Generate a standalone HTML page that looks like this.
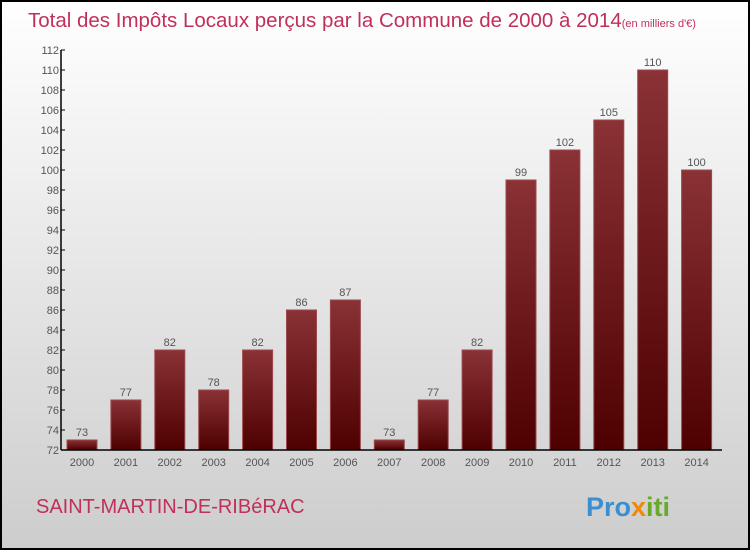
<!DOCTYPE html>
<html><head><meta charset="utf-8"><style>
body{margin:0}
#c{position:relative;width:750px;height:550px;box-sizing:border-box;border:2px solid #000;background:linear-gradient(#fff,#cdcdcd);font-family:"Liberation Sans",sans-serif;overflow:hidden}
</style></head><body>
<div id="c">
<svg width="750" height="550" style="position:absolute;left:-2px;top:-2px">
<defs><linearGradient id="g" x1="0" y1="0" x2="0" y2="1"><stop offset="0" stop-color="#8a3236"/><stop offset="1" stop-color="#4e0000"/></linearGradient></defs>
<text x="28" y="27" font-size="20.5" fill="#c0305a">Total des Impôts Locaux perçus par la Commune de 2000 à 2014<tspan font-size="11">(en milliers d'€)</tspan></text>
<g id="plot"></g>
<text x="36" y="513" font-size="20" fill="#c0305a">SAINT-MARTIN-DE-RIBéRAC</text>
<text x="586" y="516" font-size="27" font-weight="bold" fill="#3a8fd0">Pro<tspan fill="#f08a00">x</tspan><tspan fill="#6aaa2a">iti</tspan></text>
</svg>
</div>
<script>
const categories=["2000","2001","2002","2003","2004","2005","2006","2007","2008","2009","2010","2011","2012","2013","2014"];
const values=[73,77,82,78,82,86,87,73,77,82,99,102,105,110,100];
const yTicks=[72,74,76,78,80,82,84,86,88,90,92,94,96,98,100,102,104,106,108,110,112];
const ymin=72,ymax=112,y0=450,y1=50,xl=61,xr=722;
const y=v=>y0-(v-ymin)/(ymax-ymin)*(y0-y1);
const x=i=>82+i*43.9;
const g=document.getElementById('plot'),NS="http://www.w3.org/2000/svg";
function el(t,a,txt){const e=document.createElementNS(NS,t);for(const k in a)e.setAttribute(k,a[k]);if(txt!=null)e.textContent=txt;g.appendChild(e);return e;}
yTicks.forEach(t=>{
 const l=el('line',{x1:xl,x2:xl+4,y1:y(t),y2:y(t),stroke:'#000'});
 
 
 const s=el('text',{x:xl-2,y:y(t)+4,'font-size':11,fill:'#555','text-anchor':'end'},t);
 
 
});
values.forEach((v,i)=>{
 const r=el('rect',{x:x(i)-15,y:y(v),width:30,height:y0-y(v),fill:'url(#g)',stroke:'#9a4a4e','stroke-width':1});
 
 
 const t=el('text',{x:x(i),y:y(v)-4,'font-size':11,fill:'#555','text-anchor':'middle'},v);
 
 
 const c=el('text',{x:x(i),y:466,'font-size':11,fill:'#555','text-anchor':'middle'},categories[i]);
 
 
});
const ya=el('line',{x1:xl,x2:xl,y1:y1,y2:y0,stroke:'#000','stroke-width':1.5});


const xa=el('line',{x1:xl,x2:xr,y1:y0,y2:y0,stroke:'#000','stroke-width':1.5});


</script>
</body></html>
